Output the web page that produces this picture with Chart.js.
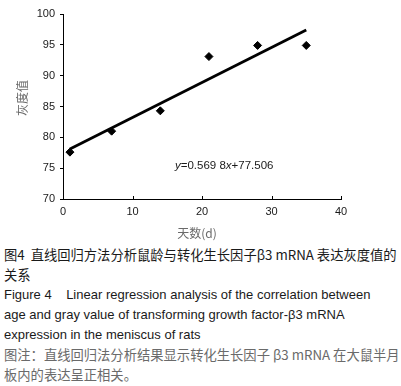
<!DOCTYPE html>
<html>
<head>
<meta charset="utf-8">
<script src="https://cdn.jsdelivr.net/npm/chart.js@4/dist/chart.umd.min.js"></script>
<style>
  html, body { margin: 0; padding: 0; background: #fff; }
  body { width: 401px; height: 386px; overflow: hidden; position: relative; }
  #wrap { position: absolute; left: 0; top: 0; width: 401px; height: 245px; }
  .cap { position: absolute; left: 4px; white-space: nowrap; line-height: 20px; }
  .zh { font-family: "Noto Sans CJK SC", "Liberation Sans", sans-serif; font-size: 13.3px; color: #1a1a1a; }
  .en { font-family: "Liberation Sans", Arial, sans-serif; font-size: 13px; color: #1a1a1a; }
  .note { font-family: "Noto Sans CJK SC", "Liberation Sans", sans-serif; font-size: 13.3px; color: #6a6a6a; }
</style>
</head>
<body>
<div id="wrap"><canvas id="chart" width="401" height="245"></canvas></div>
<div class="cap zh" style="top:245px;">图4&nbsp; 直线回归方法分析鼠龄与转化生长因子β3 mRNA 表达灰度值的</div>
<div class="cap zh" style="top:265px;">关系</div>
<div class="cap en" style="top:285px;">Figure 4&nbsp;&nbsp;&nbsp;&nbsp;Linear regression analysis of the correlation between</div>
<div class="cap en" style="top:305px;">age and gray value of transforming growth factor-β3 mRNA</div>
<div class="cap en" style="top:325px;">expression in the meniscus of rats</div>
<div class="cap note" style="top:345px;">图注：直线回归法分析结果显示转化生长因子 β3 mRNA 在大鼠半月</div>
<div class="cap note" style="top:365px;">板内的表达呈正相关。</div>
<script>
// observed points (days, gray value)
const days = [1, 7, 14, 21, 28, 35];
const grayValues = [77.6, 81.0, 84.3, 93.1, 94.9, 94.9];
// fitted line end points
const fitX = [1, 35];
const fitY = [78.1, 97.4];
const xTicks = [0, 10, 20, 30, 40];
const yTicks = [70, 75, 80, 85, 90, 95, 100];
const xTitle = '天数(d)';
const yTitle = '灰度值';

const labelsPlugin = {
  id: 'labels',
  afterDraw(chart) {
    const ctx = chart.ctx;
    const xs = chart.scales.x;
    const a = chart.chartArea;
    ctx.save();
    // small inner ticks on the x axis
    ctx.strokeStyle = '#000';
    ctx.lineWidth = 1;
    xTicks.forEach(v => {
      if (v === 0) return;
      const px = Math.round(xs.getPixelForValue(v)) + 0.5;
      ctx.beginPath();
      ctx.moveTo(px, a.bottom);
      ctx.lineTo(px, a.bottom - 3);
      ctx.stroke();
    });
    // axis titles
    ctx.fillStyle = '#6a6a6a';
    ctx.font = '12px "Noto Sans CJK SC", sans-serif';
    ctx.textAlign = 'center';
    ctx.textBaseline = 'middle';
    ctx.fillText(xTitle, 197, 233);
    ctx.translate(22, 98);
    ctx.rotate(-Math.PI / 2);
    ctx.fillText(yTitle, 0, 0);
    ctx.restore();
    // regression equation
    ctx.save();
    ctx.fillStyle = '#1a1a1a';
    ctx.textBaseline = 'middle';
    ctx.textAlign = 'left';
    const parts = [['y', true], ['=0.569 8', false], ['x', true], ['+77.506', false]];
    let x = 175;
    parts.forEach(([t, it]) => {
      ctx.font = (it ? 'italic ' : '') + '11.5px "Liberation Sans", Arial, sans-serif';
      ctx.fillText(t, x, 166);
      x += ctx.measureText(t).width;
    });
    ctx.restore();
  }
};

new Chart(document.getElementById('chart'), {
  type: 'scatter',
  data: {
    datasets: [
      {
        label: 'fit',
        type: 'line',
        data: fitX.map((v, i) => ({x: v, y: fitY[i]})),
        borderColor: '#000',
        borderWidth: 2.8,
        pointRadius: 0,
        fill: false
      },
      {
        label: 'gray',
        data: days.map((v, i) => ({x: v, y: grayValues[i]})),
        pointStyle: 'rectRot',
        pointRadius: 4,
        backgroundColor: '#000',
        borderColor: '#000',
        borderWidth: 1
      }
    ]
  },
  options: {
    responsive: false,
    animation: false,
    events: [],
    layout: {padding: {left: 0, right: 60, top: 14, bottom: 0}},
    plugins: {legend: {display: false}, tooltip: {enabled: false}},
    scales: {
      x: {
        type: 'linear',
        min: 0,
        max: 40,
        afterBuildTicks: (s) => { s.ticks = xTicks.map(v => ({value: v})); },
        afterFit: (s) => { s.height = 46; },
        grid: {display: true, drawOnChartArea: false, drawTicks: false, color: '#000'},
        border: {display: true, color: '#000', width: 1},
        ticks: {color: '#1a1a1a', padding: 6, maxRotation: 0, font: {family: '"Liberation Sans", Arial, sans-serif', size: 11}}
      },
      y: {
        type: 'linear',
        min: 70,
        max: 100,
        afterBuildTicks: (s) => { s.ticks = yTicks.map(v => ({value: v})); },
        afterFit: (s) => { s.width = 63; },
        grid: {display: true, drawOnChartArea: false, drawTicks: true, tickLength: 3, color: '#000'},
        border: {display: true, color: '#000', width: 1},
        ticks: {color: '#1a1a1a', padding: 5, font: {family: '"Liberation Sans", Arial, sans-serif', size: 11}}
      }
    }
  },
  plugins: [labelsPlugin]
});
</script>
</body>
</html>
